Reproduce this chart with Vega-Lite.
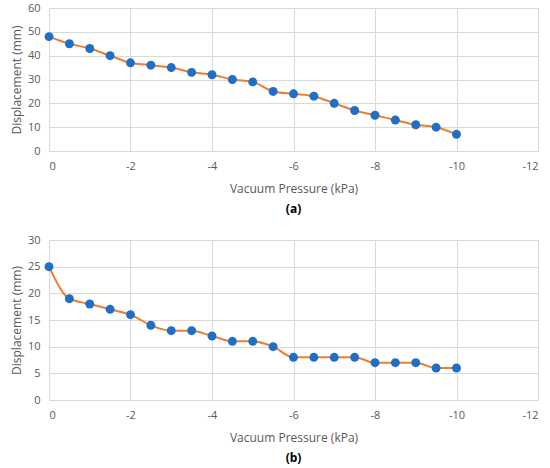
{
  "$schema": "https://vega.github.io/schema/vega-lite/v6.json",
  "padding": {"top": 2, "left": 10, "right": 2, "bottom": 2},
  "background": "white",
  "spacing": 19,
  "config": {
    "font": "Open Sans",
    "view": {"stroke": null},
    "axis": {
      "gridColor": "#d9d9d9",
      "domainColor": "#d9d9d9",
      "ticks": false,
      "labelColor": "#595959",
      "titleColor": "#595959",
      "labelFontSize": 11,
      "titleFontSize": 12,
      "titleFontWeight": "normal",
      "labelPadding": 9,
      "labelExpr": "toString(datum.value)"
    },
    "title": {"orient": "bottom", "fontSize": 12, "fontWeight": "bold", "color": "black", "offset": 10}
  },
  "datasets": {
    "a": [
      {"pressure": 0, "disp": 48}, {"pressure": -0.5, "disp": 45}, {"pressure": -1, "disp": 43},
      {"pressure": -1.5, "disp": 40}, {"pressure": -2, "disp": 37}, {"pressure": -2.5, "disp": 36},
      {"pressure": -3, "disp": 35}, {"pressure": -3.5, "disp": 33}, {"pressure": -4, "disp": 32},
      {"pressure": -4.5, "disp": 30}, {"pressure": -5, "disp": 29}, {"pressure": -5.5, "disp": 25},
      {"pressure": -6, "disp": 24}, {"pressure": -6.5, "disp": 23}, {"pressure": -7, "disp": 20},
      {"pressure": -7.5, "disp": 17}, {"pressure": -8, "disp": 15}, {"pressure": -8.5, "disp": 13},
      {"pressure": -9, "disp": 11}, {"pressure": -9.5, "disp": 10}, {"pressure": -10, "disp": 7}
    ],
    "b": [
      {"pressure": 0, "disp": 25}, {"pressure": -0.5, "disp": 19}, {"pressure": -1, "disp": 18},
      {"pressure": -1.5, "disp": 17}, {"pressure": -2, "disp": 16}, {"pressure": -2.5, "disp": 14},
      {"pressure": -3, "disp": 13}, {"pressure": -3.5, "disp": 13}, {"pressure": -4, "disp": 12},
      {"pressure": -4.5, "disp": 11}, {"pressure": -5, "disp": 11}, {"pressure": -5.5, "disp": 10},
      {"pressure": -6, "disp": 8}, {"pressure": -6.5, "disp": 8}, {"pressure": -7, "disp": 8},
      {"pressure": -7.5, "disp": 8}, {"pressure": -8, "disp": 7}, {"pressure": -8.5, "disp": 7},
      {"pressure": -9, "disp": 7}, {"pressure": -9.5, "disp": 6}, {"pressure": -10, "disp": 6}
    ]
  },
  "vconcat": [
    {
      "data": {"name": "a"},
      "title": "(a)",
      "width": 489,
      "height": 143,
      "encoding": {
        "x": {
          "field": "pressure", "type": "quantitative",
          "scale": {"domain": [-12, 0], "reverse": true, "nice": false},
          "axis": {"values": [0, -2, -4, -6, -8, -10, -12], "title": "Vacuum Pressure (kPa)", "titlePadding": 12}
        },
        "y": {
          "field": "disp", "type": "quantitative",
          "scale": {"domain": [0, 60]},
          "axis": {"values": [0, 10, 20, 30, 40, 50, 60], "title": "Displacement (mm)", "domain": false}
        }
      },
      "layer": [
        {"mark": {"type": "line", "color": "#ED7D31", "strokeWidth": 2, "interpolate": "monotone"}},
        {"mark": {"type": "point", "filled": true, "color": "#1F6FC5", "size": 80, "opacity": 1}}
      ]
    },
    {
      "data": {"name": "b"},
      "title": "(b)",
      "width": 489,
      "height": 160,
      "encoding": {
        "x": {
          "field": "pressure", "type": "quantitative",
          "scale": {"domain": [-12, 0], "reverse": true, "nice": false},
          "axis": {"values": [0, -2, -4, -6, -8, -10, -12], "title": "Vacuum Pressure (kPa)", "titlePadding": 12}
        },
        "y": {
          "field": "disp", "type": "quantitative",
          "scale": {"domain": [0, 30]},
          "axis": {"values": [0, 5, 10, 15, 20, 25, 30], "title": "Displacement (mm)", "domain": false}
        }
      },
      "layer": [
        {"mark": {"type": "line", "color": "#ED7D31", "strokeWidth": 2, "interpolate": "monotone"}},
        {"mark": {"type": "point", "filled": true, "color": "#1F6FC5", "size": 80, "opacity": 1}}
      ]
    }
  ]
}
